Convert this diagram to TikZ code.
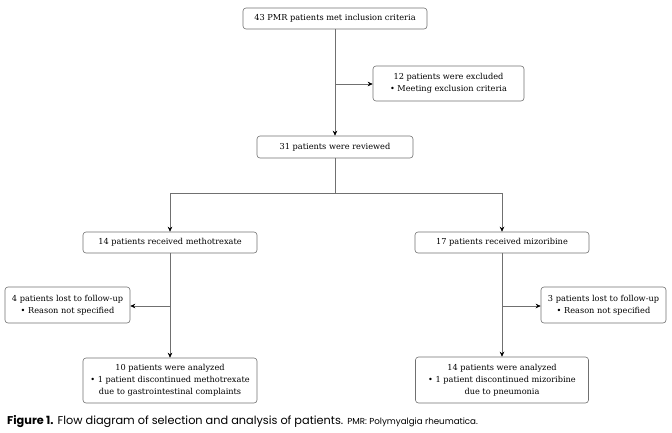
\documentclass[tikz,border=0pt]{standalone}
\usepackage{fontspec}
\setmainfont{DejaVu Serif}
\newfontfamily\capfont{Poppins}
\usetikzlibrary{arrows.meta}
\definecolor{edge}{HTML}{707070}
\tikzset{
  fbox/.style={draw=edge, line width=0.6pt, rounded corners=3pt, align=center, inner sep=1pt, font=\fontsize{8.2}{12}\selectfont, text=black},
  conn/.style={draw=edge, line width=0.6pt},
  arr/.style={conn, -{Stealth[length=5pt,width=4.5pt,color=black]}}
}
\begin{document}
\begin{tikzpicture}[x=1pt,y=-1pt]
\useasboundingbox (0,0) rectangle (672,432);
\node[fbox, minimum width=184pt, minimum height=21pt] (n1) at (335,18.5) {43 PMR patients met inclusion criteria};
\node[fbox, minimum width=151pt, minimum height=35pt] (n2) at (448.5,83.5) {12 patients were excluded\\ \textbullet\ Meeting exclusion criteria};
\node[fbox, minimum width=156pt, minimum height=22pt] (n3) at (335,147) {31 patients were reviewed};
\node[fbox, minimum width=174pt, minimum height=21pt] (n4) at (170,242.5) {14 patients received methotrexate};
\node[fbox, minimum width=174pt, minimum height=21pt] (n5) at (502,242.5) {17 patients received mizoribine};
\node[fbox, minimum width=125pt, minimum height=36pt] (nL) at (67.5,305) {4 patients lost to follow-up\\ \textbullet\ Reason not specified};
\node[fbox, minimum width=125pt, minimum height=36pt] (nR) at (603.5,305) {3 patients lost to follow-up\\ \textbullet\ Reason not specified};
\node[fbox, minimum width=174pt, minimum height=45pt] (n6) at (170,380.5) {10 patients were analyzed\\ \textbullet\ 1 patient discontinued methotrexate\\ due to gastrointestinal complaints};
\node[fbox, minimum width=173pt, minimum height=46pt] (n7) at (502,380) {14 patients were analyzed\\ \textbullet\ 1 patient discontinued mizoribine\\ due to pneumonia};
\coordinate (b1) at (335,84);
\coordinate (b2) at (335,193);
\coordinate (bl) at (170,193);
\coordinate (br) at (502,193);
\coordinate (b3) at (170,306);
\coordinate (b4) at (502,306);
\draw[arr] (n1.south) -- (n3.north);
\draw[arr] (b1) -- (n2.west |- b1);
\draw[conn] (n3.south) -- (b2);
\draw[conn] (bl) -- (br);
\draw[arr] (bl) -- (n4.north);
\draw[arr] (br) -- (n5.north);
\draw[arr] (n4.south) -- (n6.north);
\draw[arr] (n5.south) -- (n7.north);
\draw[arr] (b3) -- (nL.east |- b3);
\draw[arr] (b4) -- (nR.west |- b4);
\node[anchor=base west, inner sep=0pt, font=\capfont\fontsize{11.3}{13}\selectfont] (cap) at (7,424) {\textbf{Figure 1.} Flow diagram of selection and analysis of patients. {\fontsize{8.7}{10}\selectfont PMR: Polymyalgia rheumatica.}};
\end{tikzpicture}
\end{document}
